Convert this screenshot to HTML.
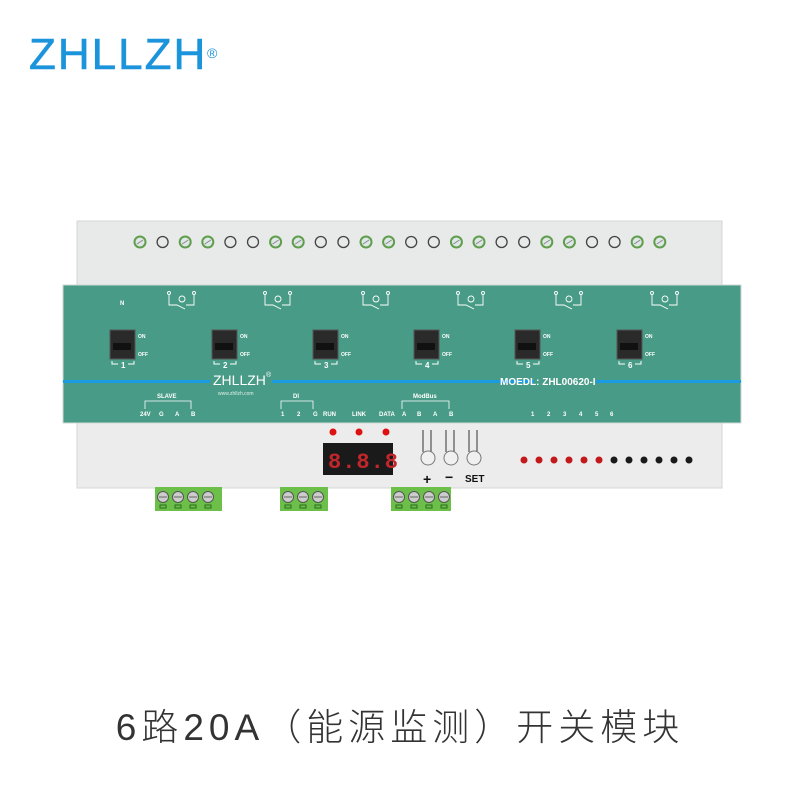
<!DOCTYPE html>
<html><head><meta charset="utf-8"><style>
body{margin:0;background:#fff;width:800px;height:800px;overflow:hidden;position:relative;font-family:"Liberation Sans",sans-serif}
.logo{position:absolute;left:29px;top:29px;font-size:44px;color:#1c94dc;letter-spacing:2px;line-height:52px;-webkit-text-stroke:0.6px #1c94dc}
.logo sup{font-size:14px;position:absolute;top:-2px;left:178px;letter-spacing:0;-webkit-text-stroke:0}
.title{position:absolute;left:0;width:800px;top:697px;text-align:center;font-size:37px;color:#333;font-family:"Liberation Sans","Noto Sans CJK SC",sans-serif;letter-spacing:5px;font-weight:300}
</style></head><body>
<div class="logo">ZHLLZH<sup>®</sup></div>
<svg width="800" height="800" style="position:absolute;left:0;top:0" id="s">
<rect x="77" y="221" width="645" height="267" fill="#e8e9e9" stroke="#d4d6d6"/>
<rect x="77" y="423" width="645" height="65" fill="#ececec" stroke="#d4d6d6"/>
<rect x="63" y="285" width="678" height="138" fill="#489b86" stroke="#cfd8d4"/>
<rect x="63" y="380" width="147" height="3" fill="#1a9ae0"/>
<rect x="272" y="380" width="262" height="3" fill="#1a9ae0"/>
<rect x="596" y="380" width="145" height="3" fill="#1a9ae0"/>
<text x="213" y="385" font-size="14" fill="#fff">ZHLLZH</text><text x="266" y="377" font-size="7" fill="#fff">®</text>
<text x="218" y="395" font-size="5" fill="#e0efe9">www.zhllzh.com</text>
<text x="500" y="385" font-size="10" fill="#fff" font-weight="bold">MOEDL: ZHL00620-I</text>
<g id="g"></g>
<rect x="323" y="443" width="70" height="32" fill="#1a1a1a"/>
<text x="328" y="468" font-size="22" fill="#c2262b" font-family="Liberation Mono" font-weight="bold" letter-spacing="1">8.8.8</text>
<circle cx="333" cy="432" r="3.5" fill="#d11"/><circle cx="359" cy="432" r="3.5" fill="#d11"/><circle cx="386" cy="432" r="3.5" fill="#d11"/>
<text x="423" y="484" font-size="14" fill="#111" font-weight="bold">+</text>
<text x="445" y="482" font-size="14" fill="#111" font-weight="bold">−</text>
<text x="465" y="482" font-size="10" fill="#111" font-weight="bold">SET</text>
<g font-size="6" fill="#fff" font-weight="bold">
<text x="157" y="398">SLAVE</text><text x="140" y="416">24V</text><text x="159" y="416">G</text><text x="175" y="416">A</text><text x="191" y="416">B</text>
<text x="293" y="398">DI</text><text x="281" y="416">1</text><text x="297" y="416">2</text><text x="313" y="416">G</text>
<text x="323" y="416">RUN</text><text x="352" y="416">LINK</text><text x="379" y="416">DATA</text>
<text x="413" y="398">ModBus</text><text x="402" y="416">A</text><text x="417" y="416">B</text><text x="433" y="416">A</text><text x="449" y="416">B</text>
<text x="120" y="305">N</text>
<text x="531" y="416">1</text><text x="547" y="416">2</text><text x="563" y="416">3</text><text x="579" y="416">4</text><text x="595" y="416">5</text><text x="610" y="416">6</text>
</g>
</svg>
<div class="title">6路20A（能源监测）开关模块</div>
<script>
var g=document.getElementById('g'),h='';
var pat='GHGGHHGGHHGGHHGGHHGGHHGG';
for(var i=0;i<24;i++){var x=140+i*22.6;
 if(pat[i]=='G')h+='<circle cx="'+x+'" cy="242" r="6.5" fill="#5f9e4c"/><circle cx="'+x+'" cy="242" r="4.5" fill="#dfe6e6"/><line x1="'+(x-3)+'" y1="244" x2="'+(x+3)+'" y2="240" stroke="#888"/>';
 else h+='<circle cx="'+x+'" cy="242" r="5.5" fill="none" stroke="#444" stroke-width="1.3"/>';}
var sw=[123,225,326,427,528,630];
for(i=0;i<6;i++){var x=sw[i];
 h+='<rect x="'+(x-13)+'" y="330" width="25" height="29" fill="#2a2a2a" stroke="#555"/><rect x="'+(x-10)+'" y="343" width="18" height="7" fill="#111"/>';
 h+='<text x="'+(x+15)+'" y="338" font-size="5" fill="#fff" font-weight="bold">ON</text><text x="'+(x+15)+'" y="356" font-size="5" fill="#fff" font-weight="bold">OFF</text>';
 h+='<path d="M'+(x-11)+' 361v3h6M'+(x+5)+' 364h6v-3" stroke="#fff" fill="none"/><text x="'+(x-2)+'" y="368" font-size="8" fill="#fff" font-weight="bold">'+(i+1)+'</text>';}
var rl=[182,278,376,471,569,665];
for(i=0;i<6;i++){var x=rl[i];
 h+='<g stroke="#fff" fill="none" stroke-width="0.9"><circle cx="'+(x-13)+'" cy="293" r="1.5"/><circle cx="'+(x+12)+'" cy="293" r="1.5"/><path d="M'+(x-13)+' 295v10h8l8 4M'+(x+12)+' 295v10h-8"/><circle cx="'+x+'" cy="299" r="3"/></g>';}
function term(x0,n,w){h+='<rect x="'+x0+'" y="487" width="'+w+'" height="24" fill="#6cc04a"/>';
 for(var k=0;k<n;k++){var cx=x0+8+k*15;h+='<circle cx="'+cx+'" cy="497" r="5.5" fill="#ccc" stroke="#555"/><line x1="'+(cx-4)+'" y1="497" x2="'+(cx+4)+'" y2="497" stroke="#666"/><rect x="'+(cx-3)+'" y="505" width="6" height="3" fill="none" stroke="#2a6a20"/>';}}
term(155,4,67);term(280,3,48);term(391,4,60);
[428,451,474].forEach(function(x){h+='<path d="M'+(x-5)+' 430v22M'+(x+3)+' 430v22" stroke="#333"/><circle cx="'+x+'" cy="458" r="7" fill="#f0f0f0" stroke="#777"/>';});
for(i=0;i<12;i++)h+='<circle cx="'+(524+i*15)+'" cy="460" r="3.5" fill="'+(i<6?'#c21a1a':'#1a1a1a')+'"/>';
[[145,191],[281,313],[402,449]].forEach(function(a){h+='<path d="M'+a[0]+' 409v-8h'+(a[1]-a[0])+'v8" stroke="#fff" fill="none" stroke-width="0.8"/>';});
g.innerHTML=h;
</script>
</body></html>
